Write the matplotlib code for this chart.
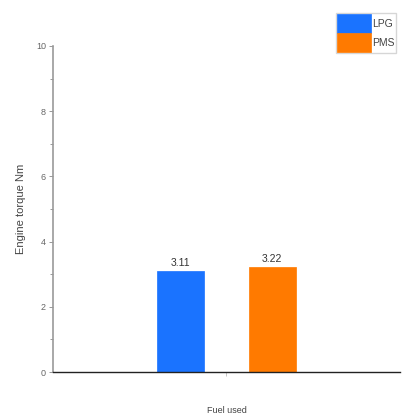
import numpy as np
from matplotlib import pyplot as plt
from matplotlib.ticker import MultipleLocator

fuels = ["LPG", "PMS"]
torque = [3.11, 3.22]
colors = ["#1a73ff", "#ff7a00"]
pos = [-0.5, 0.5]

plt.rcParams['font.family'] = ['Liberation Sans', 'DejaVu Sans']
fig = plt.figure(figsize=(4.06, 4.18), dpi=100)
ax = fig.add_axes([0.1305, 0.11, 0.855, 0.78])

for p, v, c, lab in zip(pos, torque, colors, fuels):
    ax.bar(p, v, width=0.51, color=c, label=lab, edgecolor=c, linewidth=0.5)
    ax.text(p, v + 0.08, "{:.2f}".format(v), ha="center", va="bottom",
            fontsize=7.5, color="#333333")

ax.set_ylim(0, 10)
ax.set_xlim(-1.88, 1.89)
ax.yaxis.set_major_locator(MultipleLocator(2))
ax.yaxis.set_minor_locator(MultipleLocator(1))
ax.set_xticks([0])
ax.set_xticklabels([""])
ax.tick_params(axis="y", which="major", length=3, width=0.6, color="#888888",
               labelsize=6.5, labelcolor="#666666", pad=2)
ax.tick_params(axis="y", which="minor", length=2, width=0.6, color="#888888")
ax.tick_params(axis="x", length=3, width=0.6, color="#bbbbbb")
ax.spines["top"].set_visible(False)
ax.spines["right"].set_visible(False)
ax.spines["left"].set_color("#999999")
ax.spines["left"].set_linewidth(1.2)
ax.spines["bottom"].set_color("#222222")
ax.spines["bottom"].set_linewidth(1.0)

ax.set_ylabel("Engine torque Nm", fontsize=8, color="#444444", labelpad=7)
ax.set_xlabel("Fuel used", fontsize=6.5, color="#444444", labelpad=18)

leg = fig.legend(loc="upper left", bbox_to_anchor=(0.828, 0.968), fontsize=7.5,
                 frameon=True, fancybox=False, edgecolor="#cccccc",
                 handlelength=3.2, handleheight=2.4, handletextpad=0.15,
                 borderpad=0.1, labelspacing=0.0, borderaxespad=0)
for t in leg.get_texts():
    t.set_color("#444444")

fig.savefig("out.png", dpi=100)
